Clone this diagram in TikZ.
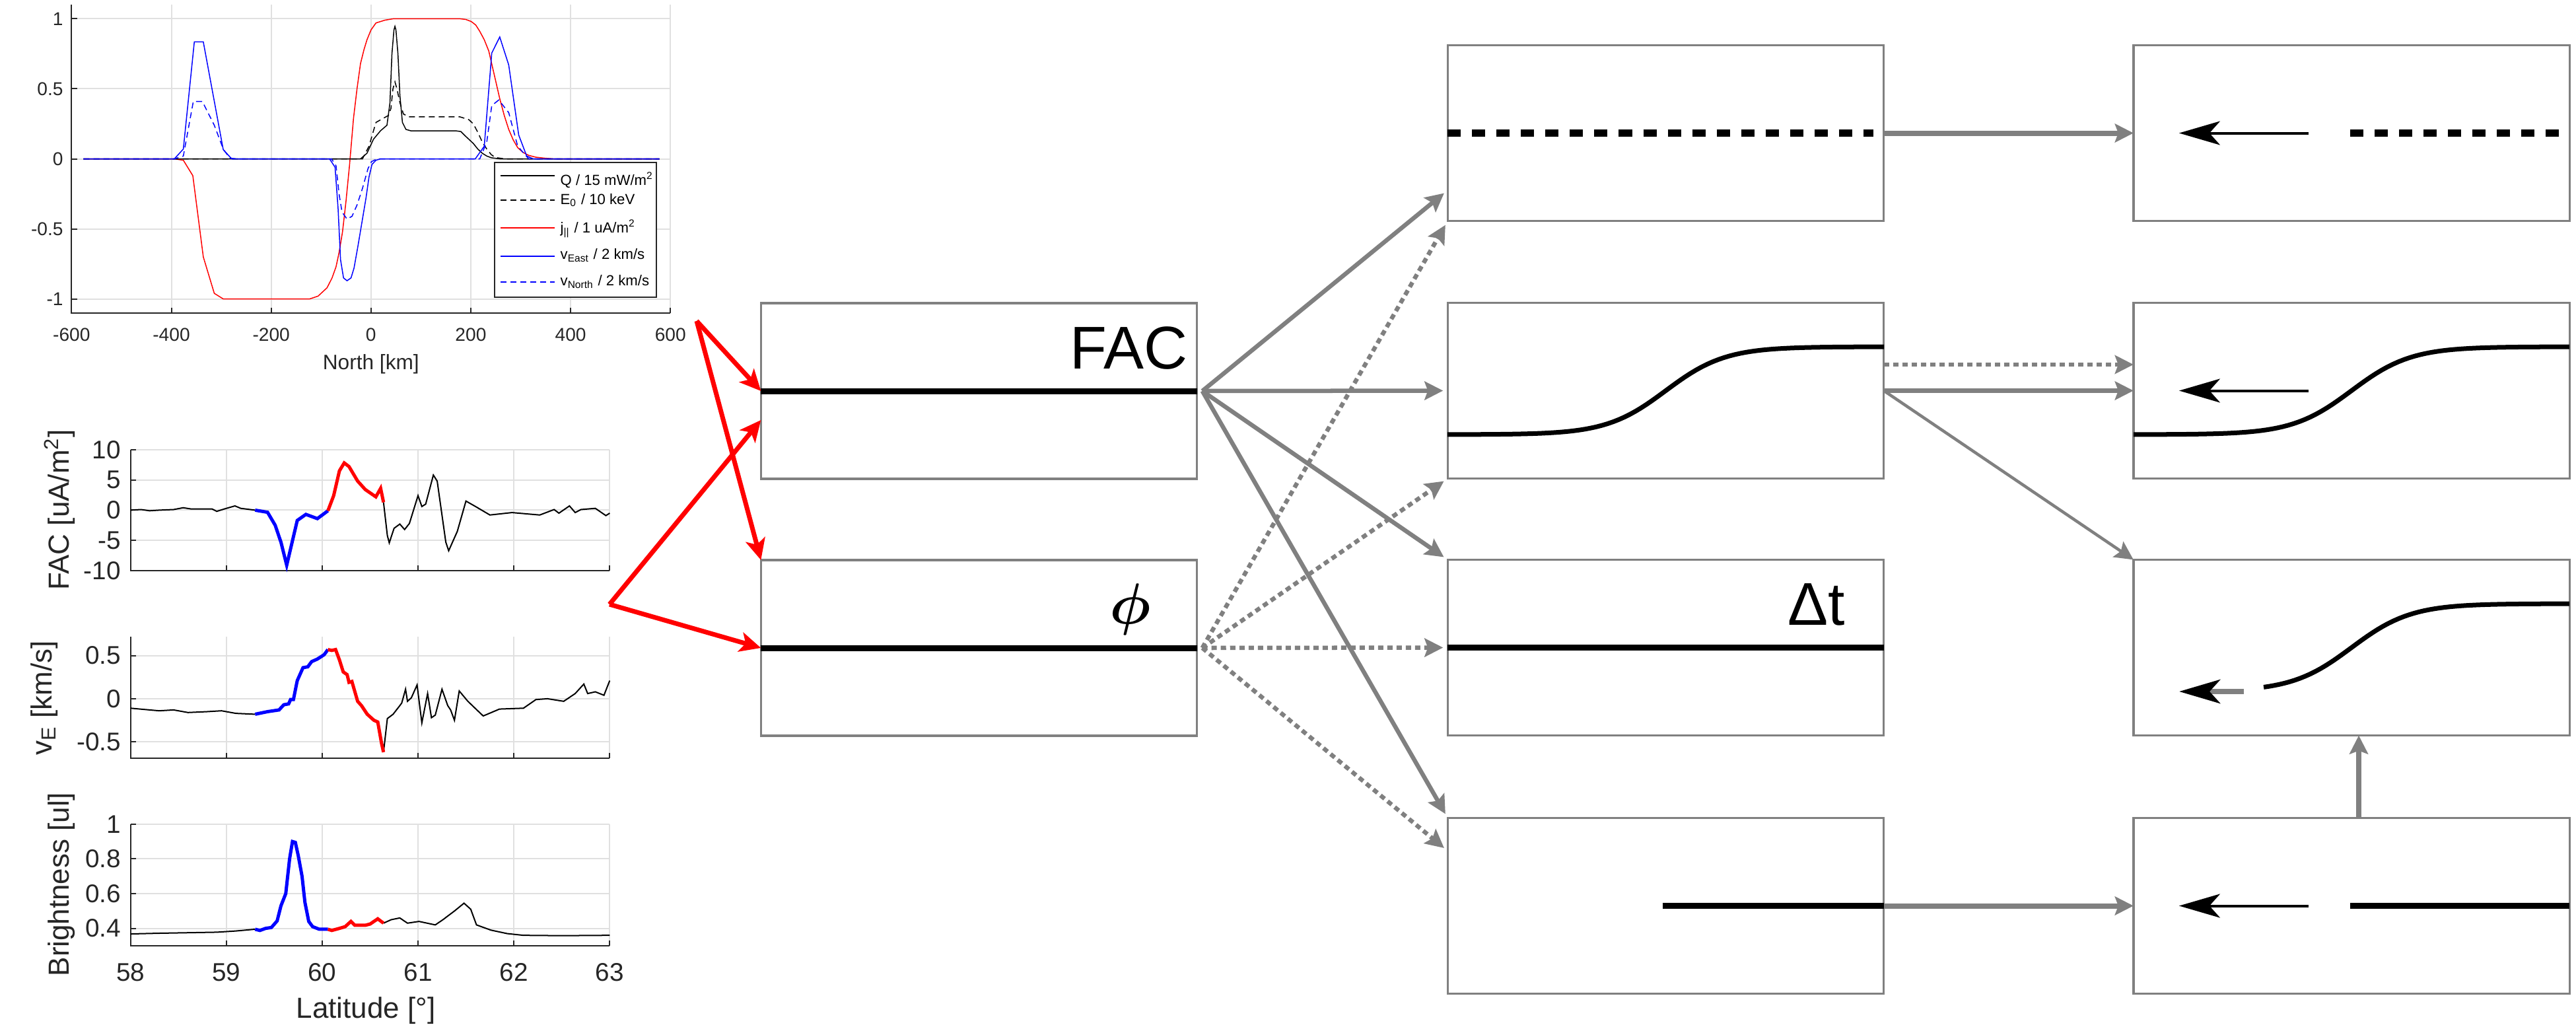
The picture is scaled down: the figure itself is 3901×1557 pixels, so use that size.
\documentclass[tikz,border=0pt]{standalone}
\usepackage{amsmath}
\usepackage{fontspec}
\setmainfont{Liberation Sans}
\usetikzlibrary{arrows.meta}

\tikzset{
  panel/.style={draw=gray, line width=0.035cm, minimum width=6.6cm, minimum height=2.66cm, inner sep=0pt, outer sep=0pt},
  feed/.style={red, line width=0.07cm, -{Stealth[length=0.32cm,width=0.3cm,inset=0.08cm]}},
  flow/.style={gray, line width=0.065cm, -{Stealth[length=0.28cm,width=0.28cm,inset=0.05cm]}},
  fan/.style={flow, shorten >=0.07cm},
  maybe/.style={fan, dash pattern=on 0.08cm off 0.06cm},
  profile/.style={black, line width=0.09cm},
  backarrow/.style={black, line width=0.04cm, -{Stealth[length=0.62cm,width=0.36cm,inset=0.16cm]}},
  gridline/.style={black!12, line width=0.02cm},
  axisline/.style={black!85, line width=0.02cm},
  smalltick/.style={text=black!85, inner sep=0pt, font=\fontsize{8}{9.6}\selectfont},
  bigtick/.style={text=black!85, inner sep=0pt, font=\fontsize{11}{13}\selectfont},
  axisname/.style={text=black!85, inner sep=0pt, font=\fontsize{12.5}{15}\selectfont},
  datum/.style={black, line width=0.02cm},
  hot/.style={line width=0.05cm},
  model/.style={line width=0.015cm},
  legendtext/.style={anchor=base west, inner sep=0pt, font=\fontsize{6.3}{7.5}\selectfont},
}

\begin{document}
\begin{tikzpicture}[x=0.01cm, y=-0.01cm]
    \useasboundingbox (0,0) rectangle (3901,1557);

    % Model profiles along North
    \begin{scope}[shift={(561.8,240.5)}, x=0.007547cm, y=2.12cm]
        % Axes
        \draw[gridline, xstep=200, ystep=0.5] (-600,-1.1) grid (600,1.1);
        \draw[axisline] (-600,1.1) -- (-600,-1.1) -- (600,-1.1);
        \draw[axisline] (-400,-1.1) -- (-400,-1.062) (-200,-1.1) -- (-200,-1.062) (0,-1.1) -- (0,-1.062)
            (200,-1.1) -- (200,-1.062) (400,-1.1) -- (400,-1.062) (600,-1.1) -- (600,-1.062);
        \draw[axisline] (-600,-1) -- (-589,-1) (-600,-0.5) -- (-589,-0.5) (-600,0) -- (-589,0)
            (-600,0.5) -- (-589,0.5) (-600,1) -- (-589,1);

        % Curves
        \draw[model, red] plot coordinates {(-576,0) (-394,0) (-376,-0.01) (-357,-0.12) (-336,-0.70) (-314,-0.96) (-296,-1.0) (-123,-1.0) (-106,-0.98) (-88,-0.92) (-78,-0.85) (-70,-0.77) (-64,-0.67) (-57,-0.52) (-50,-0.3) (-43,-0.045) (-35,0.29) (-28,0.5) (-21,0.68) (-14,0.78) (-8,0.85) (0,0.92) (10,0.97) (28,0.99) (45,1.0) (178,1.0) (190,0.995) (201,0.98) (210,0.955) (218,0.91) (227,0.85) (236,0.77) (247,0.6) (258,0.43) (267,0.31) (276,0.21) (285,0.135) (294,0.08) (305,0.045) (316,0.025) (330,0.012) (347,0.005) (365,0) (578,0)};
        \draw[model, black] plot coordinates {(-576,0) (-21,0) (-8,0.04) (5,0.14) (19,0.2) (32,0.24) (38,0.4) (42,0.75) (46,0.92) (48,0.946) (50,0.92) (54,0.75) (58,0.45) (63,0.26) (70,0.21) (80,0.2) (170,0.2) (180,0.195) (187,0.17) (196,0.14) (205,0.11) (214,0.07) (223,0.04) (232,0.02) (241,0.008) (258,0) (578,0)};
        \draw[model, black, dash pattern=on 0.09cm off 0.06cm] plot coordinates {(-576,0) (-17,0) (-4,0.09) (5,0.2) (10,0.26) (20,0.28) (35,0.31) (40,0.36) (44,0.5) (48,0.55) (52,0.5) (58,0.4) (65,0.32) (76,0.3) (178,0.3) (196,0.28) (205,0.25) (214,0.19) (223,0.12) (232,0.07) (241,0.03) (249,0.01) (267,0) (578,0)};
        \draw[model, blue] plot coordinates {(-576,0) (-394,0) (-376,0.07) (-354,0.835) (-336,0.835) (-296,0.065) (-279,0) (-83,0) (-72,-0.06) (-66,-0.35) (-61,-0.72) (-55,-0.85) (-48,-0.87) (-40,-0.85) (-34,-0.78) (-26,-0.62) (-18,-0.45) (-10,-0.28) (-4,-0.13) (2,-0.04) (10,-0.01) (19,0) (209,0) (227,0.09) (242,0.755) (258,0.87) (276,0.67) (296,0.17) (312,0.02) (325,0) (578,0)};
        \draw[model, blue, dash pattern=on 0.09cm off 0.06cm] plot coordinates {(-576,0) (-394,0) (-376,0.02) (-356,0.41) (-338,0.41) (-314,0.24) (-296,0.07) (-283,0.005) (-270,0) (-79,0) (-70,-0.05) (-64,-0.25) (-58,-0.38) (-48,-0.43) (-38,-0.41) (-28,-0.33) (-17,-0.21) (-6,-0.07) (1,-0.02) (12,0) (218,0) (232,0.12) (242,0.38) (256,0.42) (276,0.33) (294,0.09) (316,0) (578,0)};

        % Tick labels
        \node[smalltick, anchor=east] (ya1) at (-616,1) {1};
        \node[smalltick, anchor=east] (ya2) at (-616,0.5) {0.5};
        \node[smalltick, anchor=east] (ya3) at (-616,0) {0};
        \node[smalltick, anchor=east] (ya4) at (-616,-0.5) {-0.5};
        \node[smalltick, anchor=east] (ya5) at (-616,-1) {-1};
        \node[smalltick] (xa1) at (-600,-1.257) {-600};
        \node[smalltick] (xa2) at (-400,-1.257) {-400};
        \node[smalltick] (xa3) at (-200,-1.257) {-200};
        \node[smalltick] (xa4) at (0,-1.257) {0};
        \node[smalltick] (xa5) at (200,-1.257) {200};
        \node[smalltick] (xa6) at (400,-1.257) {400};
        \node[smalltick] (xa7) at (600,-1.257) {600};
        \node[smalltick, font=\fontsize{9}{11}\selectfont] (xaname) at (0,-1.465) {North [km]};
    \end{scope}

    % Legend
    \node[draw=black!85, fill=white, line width=0.02cm, minimum width=2.45cm, minimum height=2.04cm, inner sep=0pt] (legend) at (871.5,348) {};
    \draw[model, black] (758,266) -- (840,266);
    \draw[model, black, dash pattern=on 0.09cm off 0.06cm] (758,303) -- (840,303);
    \draw[model, red] (758,345) -- (840,345);
    \draw[model, blue] (758,388) -- (840,388);
    \draw[model, blue, dash pattern=on 0.09cm off 0.06cm] (758,427) -- (840,427);
    \node[legendtext] (lq) at (848,280) {Q / 15 mW/m\textsuperscript{2}};
    \node[legendtext] (le) at (848,309) {E\textsubscript{0} / 10 keV};
    \node[legendtext] (lj) at (848,352.7) {j\textsubscript{||} / 1 uA/m\textsuperscript{2}};
    \node[legendtext] (lve) at (848,392.7) {v\textsubscript{East} / 2 km/s};
    \node[legendtext] (lvn) at (848,432.7) {v\textsubscript{North} / 2 km/s};

    % FAC along latitude
    \begin{scope}[shift={(-8220.8,772.4)}, x=1.4506cm, y=0.0916cm]
        \draw[gridline, xstep=1, ystep=5] (58,-10) grid (63,10);
        \draw[axisline] (58,10) -- (58,-10) -- (63,-10);
        \draw[axisline] (59,-10) -- (59,-9.13) (60,-10) -- (60,-9.13) (61,-10) -- (61,-9.13) (62,-10) -- (62,-9.13) (63,-10) -- (63,-9.13);
        \draw[axisline] (58,-5) -- (58.055,-5) (58,0) -- (58.055,0) (58,5) -- (58.055,5) (58,10) -- (58.055,10);
        \draw[datum] plot coordinates {(58.0,0) (58.11,0.1) (58.2,-0.1) (58.3,0) (58.45,0.1) (58.55,0.4) (58.63,0.2) (58.85,0.2) (58.9,-0.2) (58.98,0.2) (59.09,0.7) (59.15,0.3) (59.3,0)};
        \draw[datum] plot coordinates {(60.64,1.3) (60.68,-4.2) (60.70,-5.4) (60.75,-3.0) (60.81,-2.3) (60.86,-3.2) (60.91,-2.2) (61.0,2.4) (61.04,0.6) (61.08,1.0) (61.16,5.8) (61.2,4.8) (61.29,-5.3) (61.32,-6.7) (61.41,-3.5) (61.5,1.5) (61.6,0.6) (61.75,-0.8) (61.98,-0.4) (62.27,-0.8) (62.42,0.1) (62.47,-0.5) (62.58,0.7) (62.64,-0.4) (62.7,0.1) (62.85,0.3) (62.96,-0.9) (63,-0.5)};
        \draw[hot, blue] plot coordinates {(59.3,0) (59.43,-0.35) (59.51,-2.5) (59.57,-5.3) (59.63,-9.1) (59.67,-6.4) (59.74,-1.7) (59.83,-0.7) (59.95,-1.4) (60.06,-0.1)};
        \draw[hot, red] plot coordinates {(60.06,-0.1) (60.12,2.4) (60.18,6.5) (60.23,7.8) (60.28,7.2) (60.37,4.8) (60.45,3.4) (60.56,2.2) (60.61,3.6) (60.64,1.3)};
        \node[bigtick, anchor=east] (yb1) at (57.903,10) {10};
        \node[bigtick, anchor=east] (yb2) at (57.903,5) {5};
        \node[bigtick, anchor=east] (yb3) at (57.903,0) {0};
        \node[bigtick, anchor=east] (yb4) at (57.903,-5) {-5};
        \node[bigtick, anchor=east] (yb5) at (57.903,-10) {-10};
    \end{scope}

    % Convection velocity along latitude
    \begin{scope}[shift={(-8220.8,1057.9)}, x=1.4506cm, y=1.305cm]
        \draw[gridline, xstep=1, ystep=0.5] (58,-0.69) grid (63,0.72);
        \draw[axisline] (58,0.72) -- (58,-0.69) -- (63,-0.69);
        \draw[axisline] (59,-0.69) -- (59,-0.63) (60,-0.69) -- (60,-0.63) (61,-0.69) -- (61,-0.63) (62,-0.69) -- (62,-0.63) (63,-0.69) -- (63,-0.63);
        \draw[axisline] (58,-0.5) -- (58.055,-0.5) (58,0) -- (58.055,0) (58,0.5) -- (58.055,0.5);
        \draw[datum] plot coordinates {(58.0,-0.11) (58.2,-0.13) (58.3,-0.14) (58.45,-0.13) (58.6,-0.16) (58.8,-0.15) (58.95,-0.14) (59.1,-0.17) (59.3,-0.18)};
        \draw[datum] plot coordinates {(60.64,-0.62) (60.68,-0.23) (60.74,-0.18) (60.81,-0.08) (60.83,-0.05) (60.87,0.11) (60.89,-0.03) (60.93,0.01) (60.99,0.16) (61.04,-0.28) (61.10,0.06) (61.14,-0.22) (61.18,-0.19) (61.25,0.11) (61.31,-0.08) (61.34,-0.13) (61.38,-0.25) (61.43,0.09) (61.52,-0.03) (61.68,-0.2) (61.85,-0.12) (62.10,-0.11) (62.23,-0.01) (62.35,0.0) (62.52,-0.03) (62.64,0.06) (62.73,0.17) (62.77,0.06) (62.85,0.08) (62.94,0.04) (63,0.21)};
        \draw[hot, blue] plot coordinates {(59.3,-0.18) (59.43,-0.15) (59.55,-0.13) (59.6,-0.07) (59.65,-0.06) (59.67,-0.01) (59.7,-0.01) (59.74,0.21) (59.8,0.36) (59.85,0.37) (59.89,0.43) (59.95,0.46) (60.02,0.51) (60.06,0.57)};
        \draw[hot, red] plot coordinates {(60.06,0.57) (60.10,0.56) (60.14,0.57) (60.18,0.45) (60.22,0.31) (60.26,0.28) (60.28,0.19) (60.31,0.2) (60.37,-0.03) (60.41,-0.08) (60.47,-0.18) (60.54,-0.25) (60.58,-0.27) (60.62,-0.52) (60.64,-0.62)};
        \node[bigtick, anchor=east] (yc1) at (57.903,0.5) {0.5};
        \node[bigtick, anchor=east] (yc2) at (57.903,0) {0};
        \node[bigtick, anchor=east] (yc3) at (57.903,-0.5) {-0.5};
    \end{scope}

    % Brightness along latitude
    \begin{scope}[shift={(-8220.8,1510.8)}, x=1.4506cm, y=2.628cm]
        \draw[gridline, xstep=1, ystep=0.2] (58,0.3) grid (63,1.001);
        \draw[axisline] (58,1) -- (58,0.3) -- (63,0.3);
        \draw[axisline] (59,0.3) -- (59,0.33) (60,0.3) -- (60,0.33) (61,0.3) -- (61,0.33) (62,0.3) -- (62,0.33) (63,0.3) -- (63,0.33);
        \draw[axisline] (58,0.4) -- (58.055,0.4) (58,0.6) -- (58.055,0.6) (58,0.8) -- (58.055,0.8) (58,1) -- (58.055,1);
        \draw[datum] plot coordinates {(58.0,0.368) (58.3,0.372) (58.6,0.375) (58.9,0.378) (59.1,0.385) (59.3,0.395)};
        \draw[datum] plot coordinates {(60.64,0.43) (60.72,0.45) (60.81,0.46) (60.89,0.43) (61.01,0.44) (61.18,0.42) (61.26,0.45) (61.38,0.50) (61.48,0.545) (61.55,0.51) (61.61,0.42) (61.76,0.39) (61.93,0.37) (62.1,0.36) (62.5,0.358) (63,0.36)};
        \draw[hot, blue] plot coordinates {(59.3,0.395) (59.35,0.388) (59.41,0.40) (59.47,0.405) (59.53,0.443) (59.57,0.53) (59.62,0.6) (59.66,0.80) (59.69,0.9) (59.72,0.895) (59.75,0.82) (59.79,0.7) (59.82,0.55) (59.86,0.44) (59.9,0.41) (59.97,0.395) (60.06,0.395)};
        \draw[hot, red] plot coordinates {(60.06,0.395) (60.1,0.388) (60.18,0.40) (60.24,0.41) (60.3,0.44) (60.34,0.418) (60.45,0.418) (60.5,0.425) (60.58,0.455) (60.64,0.43)};
        \node[bigtick, anchor=east] (yd1) at (57.903,1) {1};
        \node[bigtick, anchor=east] (yd2) at (57.903,0.8) {0.8};
        \node[bigtick, anchor=east] (yd3) at (57.903,0.6) {0.6};
        \node[bigtick, anchor=east] (yd4) at (57.903,0.4) {0.4};
        \node[bigtick] (xd1) at (58,0.1476) {58};
        \node[bigtick] (xd2) at (59,0.1476) {59};
        \node[bigtick] (xd3) at (60,0.1476) {60};
        \node[bigtick] (xd4) at (61,0.1476) {61};
        \node[bigtick] (xd5) at (62,0.1476) {62};
        \node[bigtick] (xd6) at (63,0.1476) {63};
    \end{scope}

    % Axis names
    \node[axisname, rotate=90, anchor=base] (facname) at (104,772) {FAC [uA/m\textsuperscript{2}]};
    \node[axisname, rotate=90, anchor=base] (vename) at (78,1057) {v\textsubscript{E} [km/s]};
    \node[axisname, rotate=90, anchor=base] (brname) at (104,1339) {Brightness [ul]};
    \node[axisname] (latname) at (554,1530) {Latitude [°]};

    % Input panels
    \node[panel] (fac) at (1482.5,592) {};
    \node[panel] (phi) at (1482.5,981) {};
    \draw[profile] (fac.west) -- (fac.east);
    \draw[profile] (phi.west) -- (phi.east);
    \node[anchor=base east, inner sep=0pt, font=\fontsize{26}{30}\selectfont] (factext) at (1799,558) {FAC};
    \node[anchor=base, inner sep=0pt, font=\fontsize{27}{32}\selectfont] (phitext) at (1712,944) {$\boldsymbol{\phi}$};

    % Middle panels
    \node[panel] (mdot) at (2522.5,201.5) {};
    \node[panel] (mstep) at (2522.5,591.5) {};
    \node[panel] (mdt) at (2522.5,980.5) {};
    \node[panel] (mhalf) at (2522.5,1371.5) {};
    \draw[profile, line width=0.11cm, dash pattern=on 0.2cm off 0.17cm] (mdot.west) -- ([xshift=-0.16cm]mdot.east);
    \draw[profile, line width=0.07cm] plot[domain=2192:2853, samples=80] (\x, {591.5-66.5*tanh((\x-2522.5)/90)});
    \draw[profile] (mdt.west) -- (mdt.east);
    \node[anchor=base east, inner sep=0pt, font=\fontsize{26}{30}\selectfont] (dttext) at (2795,946) {Δt};
    \draw[profile] ([xshift=-3.35cm]mhalf.east) -- (mhalf.east);

    % Right panels
    \node[panel] (rdot) at (3561,201.5) {};
    \node[panel] (rstep) at (3561,591.5) {};
    \node[panel] (rshift) at (3561,980.5) {};
    \node[panel] (rhalf) at (3561,1371.5) {};
    \draw[backarrow] ([xshift=-0.65cm]rdot.center) -- ([xshift=-2.61cm]rdot.center);
    \draw[profile, line width=0.11cm, dash pattern=on 0.2cm off 0.17cm] ([xshift=-0.02cm]rdot.center) -- ([xshift=-0.02cm]rdot.east);
    \draw[profile, line width=0.07cm] plot[domain=3231:3891, samples=80] (\x, {591.5-66.5*tanh((\x-3561)/90)});
    \draw[backarrow] ([xshift=-0.65cm]rstep.center) -- ([xshift=-2.61cm]rstep.center);
    \draw[profile, line width=0.07cm] plot[domain=3428:3891, samples=60] (\x, {980.5-66.5*tanh((\x-3561)/90)});
    \draw[gray, line width=0.08cm, -{Stealth[black,length=0.62cm,width=0.36cm,inset=0.16cm]}] (3398,1047) -- (3300,1047);
    \draw[backarrow] ([xshift=-0.65cm]rhalf.center) -- ([xshift=-2.61cm]rhalf.center);
    \draw[profile] ([xshift=-0.02cm]rhalf.center) -- (rhalf.east);

    % Red feeds from the data
    \coordinate (topsrc) at (1055,486);
    \coordinate (lowsrc) at (923,915);
    \draw[feed] (topsrc) -- (fac.west);
    \draw[feed] (topsrc) -- (phi.north west);
    \draw[feed] (lowsrc) -- ([yshift=-0.44cm]fac.west);
    \draw[feed] (lowsrc) -- (phi.west);

    % Gray fan to the middle panels
    \coordinate (facout) at ([xshift=0.08cm]fac.east);
    \coordinate (phiout) at ([xshift=0.08cm]phi.east);
    \draw[fan] (facout) -- ([yshift=-0.865cm]mdot.west);
    \draw[fan] (facout) -- (mstep.west);
    \draw[fan] (facout) -- (mdt.north west);
    \draw[fan] (facout) -- (mhalf.north west);
    \draw[maybe] (phiout) -- (mdot.south west);
    \draw[maybe] (phiout) -- (mstep.south west);
    \draw[maybe] (phiout) -- (mdt.west);
    \draw[maybe] (phiout) -- ([yshift=0.83cm]mhalf.west);

    % Middle to right
    \draw[flow, line width=0.08cm] (mdot.east) -- (rdot.west);
    \draw[flow, dash pattern=on 0.08cm off 0.06cm] ([yshift=0.395cm]mstep.east) -- ([yshift=0.395cm]rstep.west);
    \draw[flow] (mstep.east) -- (rstep.west);
    \draw[flow, line width=0.045cm] (mstep.east) -- (rshift.north west);
    \draw[flow, line width=0.08cm] (mhalf.east) -- (rhalf.west);
    \draw[flow, line width=0.08cm] ([xshift=0.11cm]rhalf.north) -- ([xshift=0.11cm]rshift.south);
\end{tikzpicture}
\end{document}
